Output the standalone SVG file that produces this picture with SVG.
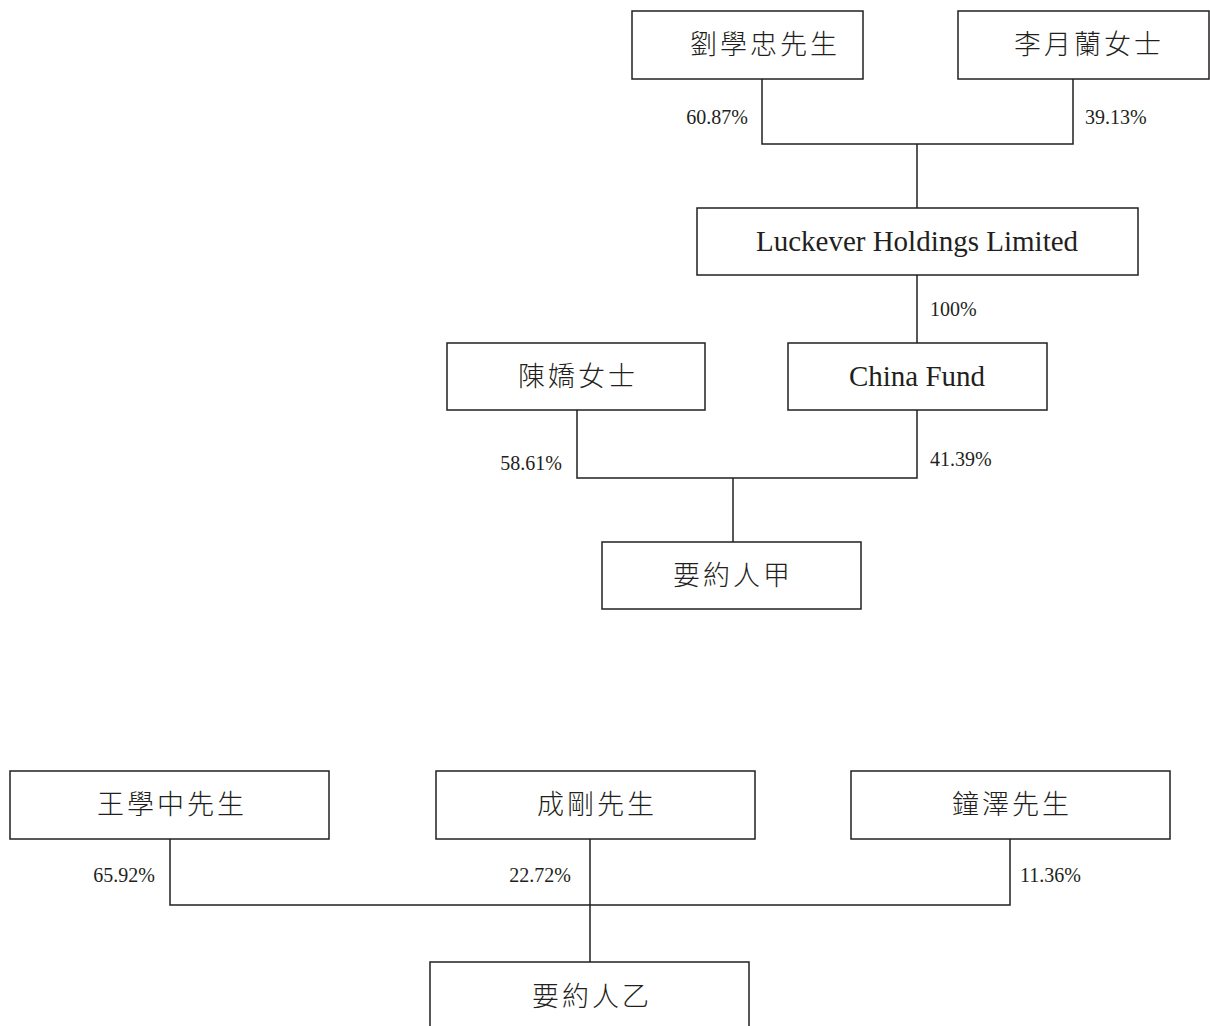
<svg xmlns="http://www.w3.org/2000/svg" width="1210" height="1026" viewBox="0 0 1210 1026">
<style>
.box{fill:#fff;stroke:#231f20;stroke-width:1.5}
.ln{fill:none;stroke:#231f20;stroke-width:1.5}
.cjk{font-family:"Liberation Serif","Noto Sans CJK TC",serif;font-size:27px;font-weight:300;fill:#231f20;text-anchor:middle;letter-spacing:3px}
.en{font-family:"Liberation Serif",serif;font-size:29px;fill:#231f20;text-anchor:middle}
.pct{font-family:"Liberation Serif",serif;font-size:20px;fill:#231f20}
</style>
<rect width="1210" height="1026" fill="#fff"/>
<g id="connectors">
<polyline class="ln" points="762,79 762,144 1073,144 1073,79"/>
<line class="ln" x1="917" y1="144" x2="917" y2="208"/>
<line class="ln" x1="917" y1="275" x2="917" y2="343"/>
<polyline class="ln" points="577,410 577,478 917,478 917,410"/>
<line class="ln" x1="733" y1="478" x2="733" y2="542"/>
<polyline class="ln" points="170,839 170,905 1010,905 1010,839"/>
<line class="ln" x1="590" y1="839" x2="590" y2="962"/>
<text class="pct" x="748" y="124" text-anchor="end">60.87%</text>
<text class="pct" x="1085" y="124">39.13%</text>
<text class="pct" x="930" y="316">100%</text>
<text class="pct" x="562" y="470" text-anchor="end">58.61%</text>
<text class="pct" x="930" y="466">41.39%</text>
<text class="pct" x="155" y="882" text-anchor="end">65.92%</text>
<text class="pct" x="571" y="882" text-anchor="end">22.72%</text>
<text class="pct" x="1020" y="882">11.36%</text>
</g>
<g id="n1"><rect class="box" x="632" y="11" width="231" height="68"/><text class="cjk" x="765" y="54">劉學忠先生</text></g>
<g id="n2"><rect class="box" x="958" y="11" width="251" height="68"/><text class="cjk" x="1089" y="54">李月蘭女士</text></g>
<g id="n3"><rect class="box" x="697" y="208" width="441" height="67"/><text class="en" x="917" y="251">Luckever Holdings Limited</text></g>
<g id="n4"><rect class="box" x="447" y="343" width="258" height="67"/><text class="cjk" x="578" y="386">陳嬌女士</text></g>
<g id="n5"><rect class="box" x="788" y="343" width="259" height="67"/><text class="en" x="917" y="386">China Fund</text></g>
<g id="n6"><rect class="box" x="602" y="542" width="259" height="67"/><text class="cjk" x="733" y="585">要約人甲</text></g>
<g id="n7"><rect class="box" x="10" y="771" width="319" height="68"/><text class="cjk" x="172" y="814">王學中先生</text></g>
<g id="n8"><rect class="box" x="436" y="771" width="319" height="68"/><text class="cjk" x="597" y="814">成剛先生</text></g>
<g id="n9"><rect class="box" x="851" y="771" width="319" height="68"/><text class="cjk" x="1012" y="814">鐘澤先生</text></g>
<g id="n10"><rect class="box" x="430" y="962" width="319" height="80"/><text class="cjk" x="592" y="1006">要約人乙</text></g>
</svg>
